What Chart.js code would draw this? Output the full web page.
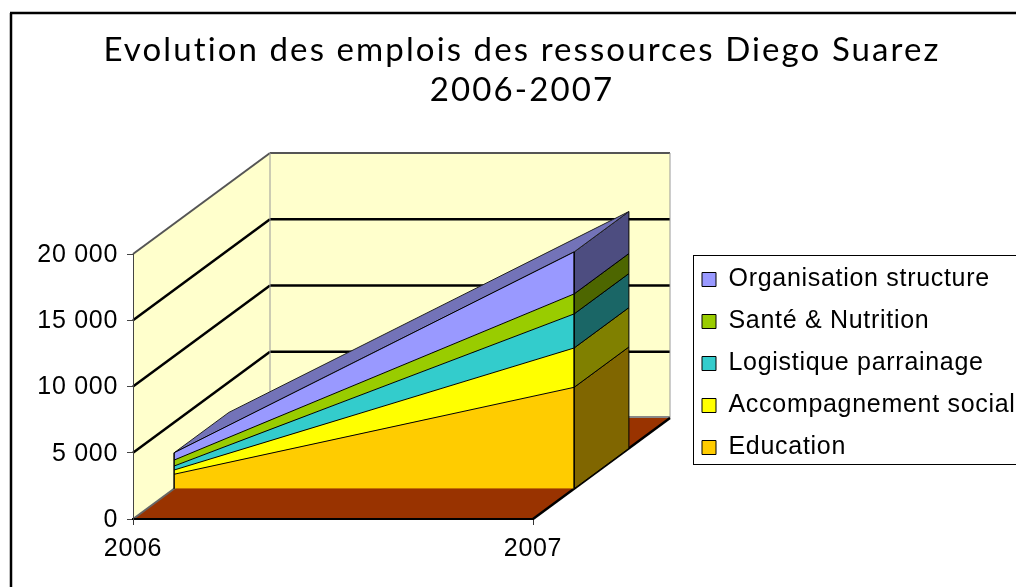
<!DOCTYPE html>
<html>
<head>
<meta charset="utf-8">
<style>
  html, body { margin: 0; padding: 0; background: #fff; overflow: hidden; }
  canvas { display: block; }
</style>
<script src="https://cdn.jsdelivr.net/npm/chart.js@4"></script>
</head>
<body>
<canvas id="chart" width="1016" height="587"></canvas>
<script>
const years = ['2006', '2007'];
const education = [1090, 7650];
const accompagnement = [320, 2970];
const logistique = [300, 2570];
const sante = [450, 1510];
const organisation = [550, 3170];

const titleLines = ['Evolution des emplois des ressources Diego Suarez', '2006-2007'];
const yTicks = [0, 5000, 10000, 15000, 20000];

const frontColors = ['#FFCC00', '#FFFF00', '#33CCCC', '#99CC00', '#9999FF'];
const sideColors = ['#806600', '#808000', '#1A6666', '#4D6600', '#4D4D80'];
const topColor = '#7373B8';

// fake 3D: how far the back wall sits from the axes, and where the series slab sits in that depth
const wallDx = 137, wallDy = -101;
const slabFront = 0.3, slabBack = 0.7;
const textSpacing = '0.7px', titleSpacing = '2.1px';

function poly(ctx, pts, fill, stroke, lw) {
  ctx.beginPath();
  pts.forEach((p, i) => i ? ctx.lineTo(p[0], p[1]) : ctx.moveTo(p[0], p[1]));
  ctx.closePath();
  if (fill) { ctx.fillStyle = fill; ctx.fill(); }
  if (stroke) { ctx.strokeStyle = stroke; ctx.lineWidth = lw || 1; ctx.stroke(); }
}

function seg(ctx, x1, y1, x2, y2, color, lw) {
  ctx.beginPath();
  ctx.moveTo(x1, y1);
  ctx.lineTo(x2, y2);
  ctx.strokeStyle = color;
  ctx.lineWidth = lw;
  ctx.stroke();
}

const box3d = {
  id: 'box3d',
  beforeDraw(chart) {
    const ctx = chart.ctx;
    const { left, right, top, bottom } = chart.chartArea;
    const yScale = chart.scales.y;

    ctx.letterSpacing = textSpacing;
    ctx.save();

    // outer frame, only top and left are visible in the picture
    seg(ctx, 11, 13, 11, 587, '#000', 2.5);
    seg(ctx, 10, 13, 1016, 13, '#000', 2.5);

    // legend box, the legend itself is moved onto it
    ctx.strokeStyle = '#000';
    ctx.lineWidth = 1;
    ctx.strokeRect(693.5, 255.5, 340, 209);
    const lg = chart.legend;
    lg.left = 685; lg.right = 1016; lg.top = 250; lg.bottom = 587;

    // title is centred over the frame, not over what the legend left free
    const tb = chart.titleBlock;
    tb.left = 28; tb.right = 1016;
    if (!tb.spaced) {
      const drawTitle = tb.draw;
      tb.draw = function () {
        ctx.letterSpacing = titleSpacing;
        drawTitle.call(this);
        ctx.letterSpacing = textSpacing;
      };
      tb.spaced = true;
    }

    // walls
    poly(ctx, [[left + wallDx, top + wallDy], [right + wallDx, top + wallDy], [right + wallDx, bottom + wallDy], [left + wallDx, bottom + wallDy]], '#FFFFCC');
    poly(ctx, [[left, top], [left + wallDx, top + wallDy], [left + wallDx, bottom + wallDy], [left, bottom]], '#FFFFCC');

    yTicks.forEach(v => {
      const y = yScale.getPixelForValue(v);
      if (v === 0) return;
      const last = v === yTicks[yTicks.length - 1];
      const color = last ? '#555' : '#000';
      const lw = last ? 2 : 2.5;
      seg(ctx, left, y, left + wallDx, y + wallDy, color, lw);
      seg(ctx, left + wallDx, y + wallDy, right + wallDx, y + wallDy, color, lw);
    });
    seg(ctx, left + wallDx, top + wallDy, left + wallDx, bottom + wallDy, '#999', 1);
    seg(ctx, right + wallDx, top + wallDy, right + wallDx, bottom + wallDy, '#999', 1);

    // floor
    seg(ctx, left + wallDx, bottom + wallDy - 1, right + wallDx, bottom + wallDy - 1, '#888', 2);
    poly(ctx, [[left, bottom], [right, bottom], [right + wallDx, bottom + wallDy], [left + wallDx, bottom + wallDy]], '#993300');
    seg(ctx, left, bottom, left + wallDx, bottom + wallDy, '#666', 2);
    seg(ctx, right, bottom, right + wallDx, bottom + wallDy, '#000', 2.5);

    // top and right faces of the slab, from the stacked points of each dataset
    const fx = wallDx * slabFront, fy = wallDy * slabFront;
    const bx = wallDx * slabBack, by = wallDy * slabBack;
    let lowY = yScale.getPixelForValue(0);
    chart.data.datasets.forEach((ds, i) => {
      const pt = chart.getDatasetMeta(i).data[1];
      poly(ctx, [
        [pt.x + fx, lowY + fy], [pt.x + fx, pt.y + fy],
        [pt.x + bx, pt.y + by], [pt.x + bx, lowY + by]
      ], sideColors[i], '#000', 1);
      lowY = pt.y;
    });
    const topPts = chart.getDatasetMeta(chart.data.datasets.length - 1).data;
    poly(ctx, [
      [topPts[0].x + fx, topPts[0].y + fy], [topPts[1].x + fx, topPts[1].y + fy],
      [topPts[1].x + bx, topPts[1].y + by], [topPts[0].x + bx, topPts[0].y + by]
    ], topColor, '#222', 1);

    ctx.restore();
  },
  beforeDatasetsDraw(chart) {
    // the real area datasets sit on the front plane of the slab
    chart.ctx.save();
    chart.ctx.translate(wallDx * slabFront, wallDy * slabFront);
  },
  afterDatasetsDraw(chart) {
    const ctx = chart.ctx;
    const base = chart.scales.y.getPixelForValue(0);
    const topPts = chart.getDatasetMeta(chart.data.datasets.length - 1).data;
    seg(ctx, topPts[0].x, base, topPts[0].x, topPts[0].y, '#000', 1.5);
    seg(ctx, topPts[1].x, base, topPts[1].x, topPts[1].y, '#000', 1.5);
    ctx.restore();
  }
};

function makeDataset(label, data, i) {
  return {
    label,
    data,
    backgroundColor: frontColors[i],
    borderColor: '#000',
    borderWidth: 1,
    pointRadius: 0,
    tension: 0,
    clip: false,
    fill: i === 0 ? 'origin' : '-1'
  };
}

Chart.defaults.font.family = '"Liberation Sans", Arial, sans-serif';
Chart.defaults.color = '#000';

new Chart(document.getElementById('chart'), {
  type: 'line',
  data: {
    labels: years,
    datasets: [
      makeDataset('Education', education, 0),
      makeDataset('Accompagnement social', accompagnement, 1),
      makeDataset('Logistique parrainage', logistique, 2),
      makeDataset('Santé & Nutrition', sante, 3),
      makeDataset('Organisation structure', organisation, 4)
    ]
  },
  plugins: [box3d],
  options: {
    responsive: false,
    animation: false,
    layout: { autoPadding: false, padding: { left: 0, top: 0, bottom: 0, right: 383 } },
    plugins: {
      tooltip: { enabled: false },
      title: {
        display: true,
        text: titleLines,
        color: '#000',
        font: { family: 'Lato', size: 33, weight: 'normal', lineHeight: 40 / 33 },
        padding: { top: 30, bottom: 144 }
      },
      legend: {
        display: true,
        position: 'right',
        align: 'start',
        reverse: true,
        maxWidth: 100,
        labels: {
          color: '#000',
          boxWidth: 14,
          boxHeight: 14,
          padding: 17,
          font: { size: 25, lineHeight: 1 }
        }
      }
    },
    scales: {
      x: {
        stacked: true,
        afterFit: s => { s.height = 68; },
        grid: { drawOnChartArea: false, tickLength: 6, color: '#333' },
        border: { color: '#000', width: 2 },
        ticks: { font: { size: 25, lineHeight: 1 }, padding: 12, maxRotation: 0, autoSkip: false }
      },
      y: {
        stacked: true,
        min: 0,
        max: 20000,
        afterFit: s => { s.width = 133; },
        afterBuildTicks: s => { s.ticks = yTicks.map(value => ({ value })); },
        grid: { drawOnChartArea: false, tickLength: 6, color: '#444' },
        border: { color: '#444', width: 1 },
        ticks: {
          font: { size: 25, lineHeight: 1 },
          padding: 9,
          labelOffset: 1,
          callback: v => String(v).replace(/\B(?=(\d{3})+$)/g, ' ')
        }
      }
    }
  }
});
</script>
</body>
</html>
